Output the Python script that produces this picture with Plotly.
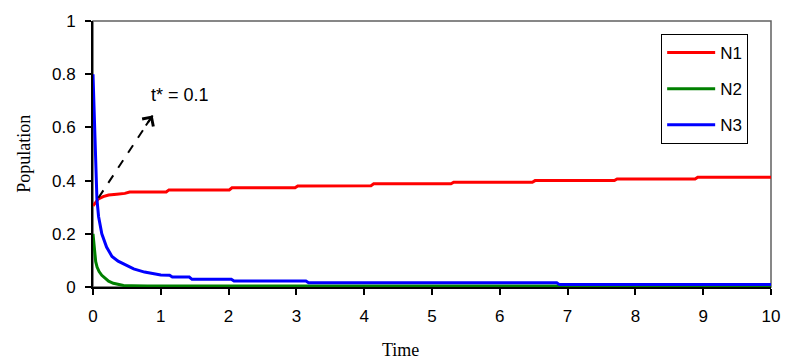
import plotly.graph_objects as go

# ---- data ----
n1_t = [0, 0.04, 0.08, 0.15, 0.23, 0.35, 0.47, 0.54, 1.08, 1.12, 2.01, 2.05, 2.98, 3.02,
        4.10, 4.14, 5.28, 5.32, 6.48, 6.52, 7.69, 7.73, 8.88, 8.92, 10]
n1_v = [0.305, 0.32, 0.331, 0.34, 0.346, 0.349, 0.352, 0.357, 0.357, 0.365, 0.365, 0.373,
        0.373, 0.380, 0.381, 0.388, 0.388, 0.394, 0.394, 0.400, 0.400, 0.406, 0.406, 0.413, 0.413]

n2_t = [0, 0.01, 0.023, 0.04, 0.06, 0.09, 0.13, 0.18, 0.23, 0.30, 0.37, 0.45, 0.57, 0.8,
        1.5, 3.0, 6.9, 7.0, 10]
n2_v = [0.2, 0.165, 0.125, 0.095, 0.075, 0.058, 0.044, 0.031, 0.022, 0.014, 0.009, 0.006,
        0.005, 0.004, 0.004, 0.004, 0.004, 0.003, 0.003]

n3_t = [0, 0.015, 0.03, 0.044, 0.058, 0.082, 0.13, 0.20, 0.28, 0.37, 0.47, 0.60, 0.76, 1.0,
        1.13, 1.17, 1.42, 1.46, 2.04, 2.08, 3.14, 3.18, 6.84, 6.88, 10]
n3_v = [0.80, 0.65, 0.52, 0.40, 0.33, 0.265, 0.20, 0.15, 0.115, 0.097, 0.083, 0.068, 0.056,
        0.045, 0.044, 0.0375, 0.0375, 0.029, 0.029, 0.0225, 0.0225, 0.016, 0.016, 0.009, 0.009]

series_names = ["N1", "N2", "N3"]
series_colors = ["#FF0000", "#008000", "#0000FF"]

x_ticks = list(range(0, 11))
y_ticks = [0, 0.2, 0.4, 0.6, 0.8, 1]
y_tick_labels = ["0", "0.2", "0.4", "0.6", "0.8", "1"]

arrow_tail = (0.08, 0.335)
arrow_head = (0.88, 0.645)
label_text = "t* = 0.1"
label_pos = (1.29, 0.72)

# ---- figure ----
fig = go.Figure()
for name, t, v, c in zip(series_names, [n1_t, n2_t, n3_t], [n1_v, n2_v, n3_v], series_colors):
    fig.add_trace(go.Scatter(x=t, y=v, mode="lines", name=name, legendgroup=name,
                             line=dict(color=c, width=3)))

ARIAL = "Liberation Sans, Arial, sans-serif"
TIMES = "Liberation Serif, Times New Roman, serif"

fig.update_layout(
    width=792, height=361,
    margin=dict(l=93, r=13, t=20, b=74),
    paper_bgcolor="white", plot_bgcolor="white",
    showlegend=True,
    legend=dict(x=0.838, y=0.951, xanchor="left", yanchor="top",
                bordercolor="black", borderwidth=1, bgcolor="white",
                font=dict(family=ARIAL, size=17, color="black"),
                traceorder="grouped", tracegroupgap=11, itemwidth=48),
    xaxis=dict(range=[0, 10], tickvals=x_ticks, showgrid=False, zeroline=False,
               showline=True, linecolor="black", linewidth=2,
               ticks="outside", ticklen=6, tickwidth=2, tickcolor="black",
               tickfont=dict(family=ARIAL, size=17, color="black"),
               ticklabelstandoff=7),
    yaxis=dict(range=[0, 1], tickvals=y_ticks, ticktext=y_tick_labels,
               showgrid=False, zeroline=False,
               showline=True, linecolor="black", linewidth=2,
               ticks="outside", ticklen=6, tickwidth=2, tickcolor="black",
               tickfont=dict(family=ARIAL, size=17, color="black"),
               ticklabelstandoff=6),
)

# gray frame (top/right)
fig.add_shape(type="rect", xref="paper", yref="paper", x0=0, y0=0, x1=1, y1=1,
              line=dict(color="#606060", width=1.5), layer="below")

# dashed arrow body
fig.add_shape(type="line", xref="x", yref="y",
              x0=arrow_tail[0], y0=arrow_tail[1], x1=arrow_head[0], y1=arrow_head[1],
              line=dict(color="black", width=2, dash="dash"))
# arrow head
fig.add_annotation(x=arrow_head[0], y=arrow_head[1], xref="x", yref="y",
                   ax=-7.8, ay=11.6, axref="pixel", ayref="pixel",
                   text="", showarrow=True, arrowhead=4, arrowsize=1.3,
                   arrowwidth=2, arrowcolor="black", standoff=0)
fig.add_annotation(x=label_pos[0], y=label_pos[1], xref="x", yref="y",
                   text=label_text, showarrow=False,
                   font=dict(family=ARIAL, size=18, color="black"))

# axis titles
fig.add_annotation(x=(404 - 93) / 686, y=-0.235, xref="paper", yref="paper",
                   text="Time", showarrow=False, xanchor="center", yanchor="middle",
                   font=dict(family=TIMES, size=18, color="black"))
fig.add_annotation(x=-(93 - 23) / 686, y=0.5, xref="paper", yref="paper",
                   text="Population", showarrow=False, textangle=-90,
                   xanchor="center", yanchor="middle",
                   font=dict(family=TIMES, size=18, color="black"))

fig.write_html("out.html")
